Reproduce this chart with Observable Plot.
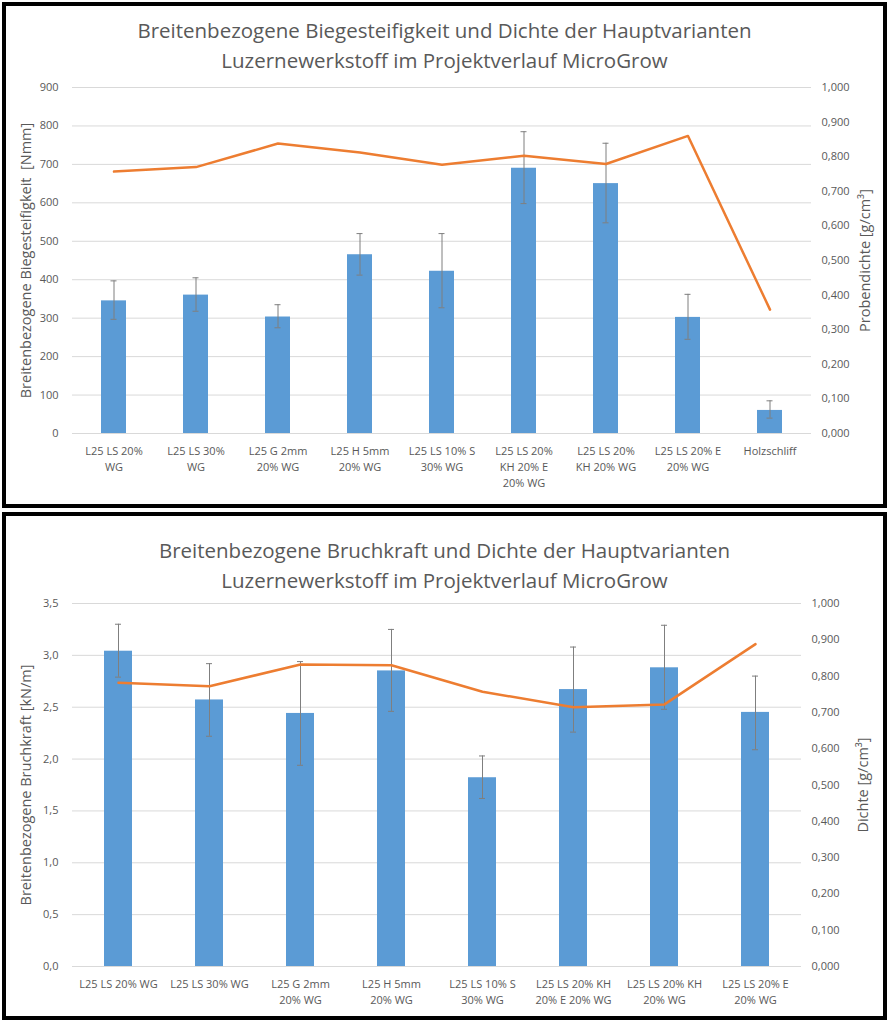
<!DOCTYPE html>
<html><head><meta charset="utf-8">
<script src="https://cdn.jsdelivr.net/npm/d3@7"></script>
<script src="https://cdn.jsdelivr.net/npm/@observablehq/plot@0.6"></script>
<style>
body{margin:0;background:#fff;font-family:"Open Sans",Calibri,sans-serif;}
.box{position:absolute;left:2px;width:877px;border:4px solid #000;background:#fff;}
.title{text-align:center;color:#595959;font-size:20.5px;line-height:30px;}
svg{display:block}
</style></head><body>
<div class="box" id="b1" style="top:2px;height:498px"><div class="title" style="padding-top:9px;height:62px">Breitenbezogene Biegesteifigkeit und Dichte der Hauptvarianten<br>Luzernewerkstoff im Projektverlauf MicroGrow</div></div>
<div class="box" id="b2" style="top:512px;height:500px"><div class="title" style="padding-top:19px;height:58px">Breitenbezogene Bruchkraft und Dichte der Hauptvarianten<br>Luzernewerkstoff im Projektverlauf MicroGrow</div></div>
<script>
const cat1 = ["L25 LS 20%\nWG","L25 LS 30%\nWG","L25 G 2mm\n20% WG","L25 H 5mm\n20% WG","L25 LS 10% S\n30% WG","L25 LS 20%\nKH 20% E\n20% WG","L25 LS 20%\nKH 20% WG","L25 LS 20% E\n20% WG","Holzschliff"];
const stiff = [345,360,303,465,422,690,650,302,60];
const stiffLo = [297,318,275,412,327,598,548,245,40];
const stiffHi = [397,405,335,520,520,785,755,362,85];
const dens1 = [0.757,0.770,0.838,0.812,0.777,0.803,0.779,0.860,0.358];

const cat2 = ["L25 LS 20% WG","L25 LS 30% WG","L25 G 2mm\n20% WG","L25 H 5mm\n20% WG","L25 LS 10% S\n30% WG","L25 LS 20% KH\n20% E 20% WG","L25 LS 20% KH\n20% WG","L25 LS 20% E\n20% WG"];
const force = [3.04,2.57,2.44,2.85,1.82,2.67,2.88,2.45];
const forceLo = [2.79,2.22,1.94,2.46,1.62,2.26,2.48,2.09];
const forceHi = [3.30,2.92,2.94,3.25,2.03,3.08,3.29,2.80];
const dens2 = [0.782,0.772,0.832,0.830,0.757,0.714,0.722,0.888];

const densTicks = [0,0.1,0.2,0.3,0.4,0.5,0.6,0.7,0.8,0.9,1.0];
const comma = (f) => (v) => d3.format(f)(v).replace(".", ",");

function chart(cats, vals, lo, hi, dens, yMax, yTicks, yFmt, yLabel, rLabel, opts) {
  const data = cats.map((c,i)=>({c, v:vals[i], lo:lo[i], hi:hi[i], d:dens[i]*yMax}));
  const svg = Plot.plot({
    width: 877, height: opts.height,
    marginTop: 10, marginLeft: 66, marginRight: opts.mr, marginBottom: opts.mb,
    style: {fontFamily: '"Open Sans",sans-serif', fontSize: "11px", color: "#595959"},
    x: {domain: cats, paddingInner: opts.pad, paddingOuter: opts.pad/2, label: null},
    y: {domain: [0, yMax], label: null},
    marks: [
      Plot.gridY(yTicks, {stroke: "#d9d9d9", strokeOpacity: 1}),
      Plot.barY(data, {x: "c", y: "v", fill: "#5b9bd5"}),
      Plot.ruleX(data, {x: "c", y1: "lo", y2: "hi", stroke: "#7f7f7f", strokeWidth: 1}),
      Plot.tickY(data, {x: "c", y: "lo", stroke: "#7f7f7f", insetLeft: opts.cap, insetRight: opts.cap}),
      Plot.tickY(data, {x: "c", y: "hi", stroke: "#7f7f7f", insetLeft: opts.cap, insetRight: opts.cap}),
      Plot.line(data, {x: "c", y: "d", stroke: "#ed7d31", strokeWidth: 2.5}),
      Plot.axisX({tickSize: 0, tickPadding: 10, fill: "#595959", lineHeight: 1.45}),
      Plot.axisY(yTicks, {anchor: "left", tickSize: 0, tickPadding: 14, tickFormat: yFmt, fill: "#595959", label: yLabel, labelAnchor: "center", labelOffset: 52, labelArrow: "none"}),
      Plot.axisY(densTicks.map(t=>t*yMax), {anchor: "right", tickSize: 0, tickPadding: 10, tickFormat: t => comma(".3f")(t/yMax), fill: "#595959", label: rLabel, labelAnchor: "center", labelOffset: opts.rOff, labelArrow: "none"})
    ]
  });
  svg.querySelectorAll("text").forEach(t => {
    if (t.textContent === yLabel || t.textContent === rLabel) t.setAttribute("font-size", "14.5");
  });
  return svg;
}
const s1 = chart(cat1, stiff, stiffLo, stiffHi, dens1, 900, d3.range(0,901,100), d3.format("d"),
  "Breitenbezogene Biegesteifigkeit  [Nmm]", "Probendichte [g/cm³]", {height: 422, mr: 72, mb: 66, pad: 0.7, cap: 9.5, rOff: 58});
const s2 = chart(cat2, force, forceLo, forceHi, dens2, 3.5, d3.range(0,3.51,0.5), comma(".1f"),
  "Breitenbezogene Bruchkraft [kN/m]", "Dichte [g/cm³]", {height: 418, mr: 82, mb: 45, pad: 0.69, cap: 11, rOff: 66});
document.getElementById("b1").appendChild(s1);
document.getElementById("b2").appendChild(s2);
</script>
</body></html>
